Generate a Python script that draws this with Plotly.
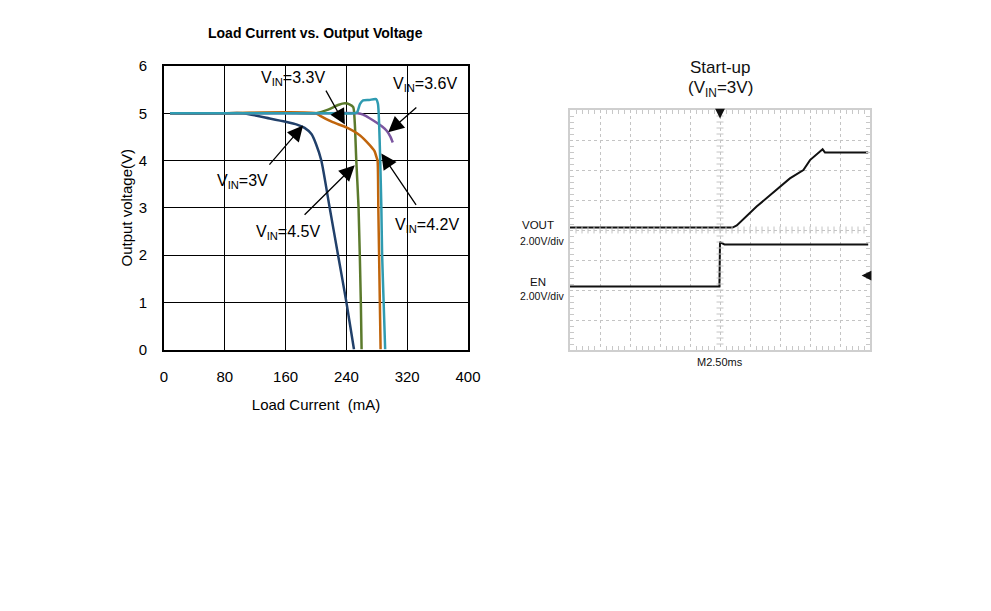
import plotly.graph_objects as go

# ---------------- Left chart data (Load current mA vs Output voltage V) ----------------
x_ticks = [0, 80, 160, 240, 320, 400]
y_ticks = [0, 1, 2, 3, 4, 5, 6]

vin3_x = [8, 40, 80, 104, 139, 160, 175, 185, 194, 200, 207, 218, 229, 240, 250]
vin3_y = [5.0, 4.99, 5.0, 5.0, 4.89, 4.82, 4.76, 4.69, 4.56, 4.35, 4.0, 3.0, 2.0, 1.0, 0.0]

vin45_x = [8, 80, 160, 200, 215, 230, 238, 244, 249, 251, 253, 256, 259, 260]
vin45_y = [5.0, 5.0, 5.01, 5.0, 5.07, 5.18, 5.21, 5.19, 5.13, 4.8, 4.0, 3.0, 1.0, 0.0]

vin42_x = [8, 80, 160, 200, 205, 222, 240, 258, 271, 277, 280, 281, 282, 283, 284, 285]
vin42_y = [5.0, 5.0, 5.02, 5.0, 4.95, 4.81, 4.70, 4.53, 4.32, 4.2, 4.05, 4.0, 3.0, 2.0, 1.0, 0.0]

vin36_x = [8, 80, 200, 250, 254, 258, 262, 270, 279, 281.5, 283, 284.5, 286, 287, 289, 291]
vin36_y = [5.0, 5.0, 5.0, 5.0, 5.02, 5.2, 5.27, 5.28, 5.3, 5.2, 4.8, 4.0, 3.0, 2.0, 1.0, 0.0]

vin33_x = [8, 80, 200, 255, 262, 270, 279, 287, 293, 298, 301]
vin33_y = [5.0, 5.0, 5.0, 5.0, 4.97, 4.9, 4.81, 4.72, 4.63, 4.5, 4.38]

# ---------------- Right chart data (scope, in divisions) ----------------
vout_x = [0, 5.42, 5.56, 6.22, 7.33, 7.78, 8.0, 8.28, 8.42, 8.5, 9.94]
vout_y = [4.08, 4.08, 4.15, 4.78, 5.72, 6.0, 6.33, 6.56, 6.69, 6.58, 6.58]

en_x = [0, 4.98, 5.0, 5.03, 5.15, 9.94]
en_y = [2.12, 2.12, 3.61, 3.58, 3.52, 3.52]

FONT = "Liberation Sans, Arial, sans-serif"
W, H = 991, 611


def px(x):
    return x / W


def py(y):
    return (H - y) / H


fig = go.Figure()

series = [
    (vin3_x, vin3_y, "#21406a"),
    (vin45_x, vin45_y, "#5b7a2c"),
    (vin42_x, vin42_y, "#c0650c"),
    (vin33_x, vin33_y, "#7b56a0"),
    (vin36_x, vin36_y, "#2f9bb1"),
]
for xs, ys, c in series:
    fig.add_trace(go.Scatter(x=xs, y=ys, mode="lines", line=dict(color=c, width=2.5, shape="spline", smoothing=0.6),
                             xaxis="x", yaxis="y", showlegend=False, hoverinfo="skip"))

fig.add_trace(go.Scatter(x=vout_x, y=vout_y, mode="lines", line=dict(color="#111", width=2),
                         xaxis="x2", yaxis="y2", showlegend=False, hoverinfo="skip"))
fig.add_trace(go.Scatter(x=en_x, y=en_y, mode="lines", line=dict(color="#111", width=2),
                         xaxis="x2", yaxis="y2", showlegend=False, hoverinfo="skip"))

# scope centre-line tick marks (decorative graticule)
minor = [i * 0.2 for i in range(1, 50)]
fig.add_trace(go.Scatter(x=minor, y=[4] * len(minor), mode="markers",
                         marker=dict(symbol="line-ns", size=5, line=dict(color="#c4c4c4", width=1)),
                         xaxis="x2", yaxis="y2", showlegend=False, hoverinfo="skip"))
minor_y = [i * 0.2 for i in range(1, 40)]
fig.add_trace(go.Scatter(x=[5] * len(minor_y), y=minor_y, mode="markers",
                         marker=dict(symbol="line-ew", size=5, line=dict(color="#c4c4c4", width=1)),
                         xaxis="x2", yaxis="y2", showlegend=False, hoverinfo="skip"))

fig.update_layout(
    width=W, height=H,
    margin=dict(l=0, r=0, t=0, b=0),
    paper_bgcolor="white", plot_bgcolor="white",
    font=dict(family=FONT, color="#000"),
    xaxis=dict(domain=[px(164), px(468)], range=[0, 400], tickvals=x_ticks, automargin=False,
               showgrid=True, gridcolor="#000", gridwidth=1, zeroline=False,
               showline=True, linecolor="#000", linewidth=2, mirror=True,
               ticks="", tickfont=dict(size=15, family=FONT), ticklabelstandoff=12,
               title=dict(text="Load Current  (mA)", font=dict(size=15, family=FONT), standoff=16),
               fixedrange=True),
    yaxis=dict(domain=[py(349.5), py(66)], range=[0, 6], tickvals=y_ticks, automargin=False,
               showgrid=True, gridcolor="#000", gridwidth=1, zeroline=False,
               showline=True, linecolor="#000", linewidth=2, mirror=True,
               ticks="", tickfont=dict(size=15, family=FONT), ticklabelstandoff=12,
               title=dict(text="Output voltage(V)", font=dict(size=15, family=FONT), standoff=2),
               fixedrange=True),
    xaxis2=dict(domain=[px(570), px(870)], range=[0, 10], dtick=1, anchor="y2", automargin=False,
                showgrid=True, gridcolor="#c4c4c4", griddash="dot", gridwidth=1, zeroline=False,
                showline=True, linecolor="#cfcfcf", linewidth=1.5, mirror="allticks",
                showticklabels=False, ticks="",
                minor=dict(dtick=0.2, ticks="inside", ticklen=4, tickcolor="#c8c8c8", showgrid=False),
                fixedrange=True),
    yaxis2=dict(domain=[py(350), py(110)], range=[0, 8], dtick=1, anchor="x2", automargin=False,
                showgrid=True, gridcolor="#c4c4c4", griddash="dot", gridwidth=1, zeroline=False,
                showline=True, linecolor="#cfcfcf", linewidth=1.5, mirror="allticks",
                showticklabels=False, ticks="",
                minor=dict(dtick=0.2, ticks="inside", ticklen=4, tickcolor="#c8c8c8", showgrid=False),
                fixedrange=True),
)

ann = []
# Left title
ann.append(dict(text="<b>Load Current vs. Output Voltage</b>", xref="paper", yref="paper",
                x=px(315), y=py(33), showarrow=False, font=dict(size=14, family=FONT),
                xanchor="center", yanchor="middle"))

# Callout labels and arrows (data coords)
labels = [
    ("V<sub>IN</sub>=3.3V", 170, 5.74, (212, 5.51), (238, 4.76)),
    ("V<sub>IN</sub>=3.6V", 343, 5.6, (334, 5.15), (295, 4.6)),
    ("V<sub>IN</sub>=3V", 103, 3.56, (137, 3.88), (183, 4.74)),
    ("V<sub>IN</sub>=4.5V", 163, 2.47, (183, 2.82), (251, 3.9)),
    ("V<sub>IN</sub>=4.2V", 346, 2.62, (333, 3.03), (286, 4.15)),
]
for txt, tx, ty, tail, head in labels:
    ann.append(dict(text=txt, x=tx, y=ty, xref="x", yref="y", showarrow=False,
                    font=dict(size=16, family=FONT), xanchor="center", yanchor="middle"))
    ann.append(dict(text="", x=head[0], y=head[1], ax=tail[0], ay=tail[1], xref="x", yref="y",
                    axref="x", ayref="y", showarrow=True, arrowhead=2, arrowsize=2.4,
                    arrowwidth=1.3, arrowcolor="#000"))

# Right panel texts
ann.append(dict(text="Start-up", xref="paper", yref="paper", x=px(720), y=py(68),
                showarrow=False, font=dict(size=17, family=FONT, color="#111"), xanchor="center", yanchor="middle"))
ann.append(dict(text="(V<sub>IN</sub>=3V)", xref="paper", yref="paper", x=px(720), y=py(89),
                showarrow=False, font=dict(size=17, family=FONT, color="#111"), xanchor="center", yanchor="middle"))
for txt, tx, ty in [("VOUT", 538, 225), ("2.00V/div", 542, 241), ("EN", 538, 282), ("2.00V/div", 542, 296)]:
    ann.append(dict(text=txt, xref="paper", yref="paper", x=px(tx), y=py(ty), showarrow=False,
                    font=dict(size=11.5 if txt != "2.00V/div" else 10.5, family=FONT, color="#111"),
                    xanchor="center", yanchor="middle"))
ann.append(dict(text="M2.50ms", xref="paper", yref="paper", x=px(720), y=py(362), showarrow=False,
                font=dict(size=11, family=FONT, color="#111"), xanchor="center", yanchor="middle"))
# scope markers
ann.append(dict(text="", x=5.0, y=7.72, ax=5.0, ay=8.02, xref="x2", yref="y2", axref="x2", ayref="y2",
                showarrow=True, arrowhead=2, arrowsize=1.3, arrowwidth=1.5, arrowcolor="#111"))
ann.append(dict(text="", x=9.72, y=2.48, ax=9.96, ay=2.48, xref="x2", yref="y2", axref="x2", ayref="y2",
                showarrow=True, arrowhead=2, arrowsize=1.3, arrowwidth=1.5, arrowcolor="#111"))

fig.update_layout(annotations=ann)
fig.write_html("out.html", config={"displayModeBar": False},
               post_script="document.body.style.margin='0px';document.body.style.padding='0px';")
